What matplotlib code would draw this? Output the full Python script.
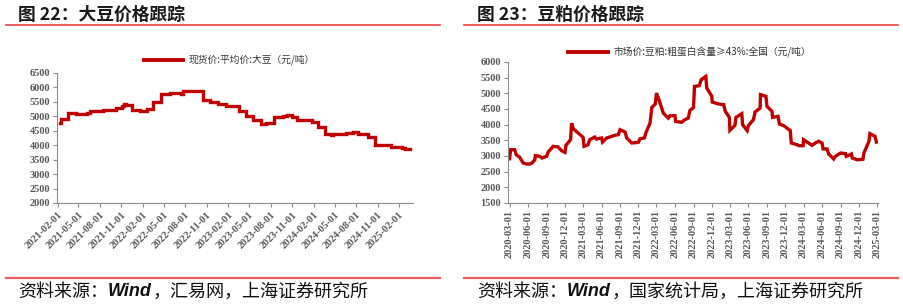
import matplotlib
matplotlib.use("Agg")
import matplotlib.pyplot as plt
import matplotlib.dates as mdates
from matplotlib.lines import Line2D
import numpy as np
import pandas as pd

# ---------------- data ----------------
soy_dates = ["2021-02-12", "2021-02-15", "2021-03-18", "2021-04-22", "2021-06-05", "2021-06-19",
             "2021-07-17", "2021-08-15", "2021-10-11", "2021-11-02", "2021-11-12", "2021-11-20",
             "2021-12-18", "2022-01-19", "2022-02-17", "2022-03-15", "2022-04-20", "2022-05-26",
             "2022-07-14", "2022-07-22", "2022-09-03", "2022-09-20", "2022-10-16", "2022-11-14",
             "2022-12-19", "2023-01-24", "2023-03-18", "2023-04-19", "2023-05-17", "2023-06-22",
             "2023-07-13", "2023-08-14", "2023-09-23", "2023-10-10", "2023-11-02", "2023-11-22",
             "2024-01-15", "2024-01-27", "2024-02-20", "2024-03-19", "2024-04-16", "2024-04-24",
             "2024-06-20", "2024-07-18", "2024-08-09", "2024-09-21", "2024-10-19", "2024-12-08",
             "2024-12-29", "2025-02-11", "2025-02-25", "2025-03-20"]
soy_values = [4770, 4910, 5120, 5080, 5110, 5200,
              5170, 5230, 5290, 5350, 5440, 5380,
              5230, 5200, 5250, 5500, 5780, 5800,
              5790, 5860, 5890, 5880, 5580, 5490,
              5430, 5350, 5170, 5020, 4890, 4750,
              4770, 4970, 5020, 5040, 4970, 4870,
              4890, 4790, 4620, 4390, 4370, 4400,
              4440, 4460, 4390, 4270, 4020, 4000,
              3940, 3900, 3860, 3860]

meal_dates = ["2020-03-01", "2020-03-06", "2020-03-26", "2020-04-03", "2020-04-20", "2020-05-07",
              "2020-05-23", "2020-06-09", "2020-06-21", "2020-07-04", "2020-07-07", "2020-07-28",
              "2020-08-09", "2020-09-01", "2020-09-09", "2020-10-04", "2020-10-28", "2020-11-14",
              "2020-12-01", "2020-12-06", "2020-12-29", "2021-01-03", "2021-01-12", "2021-02-14",
              "2021-03-01", "2021-03-06", "2021-03-26", "2021-04-03", "2021-04-28", "2021-05-06",
              "2021-06-01", "2021-06-06", "2021-06-26", "2021-07-12", "2021-08-06", "2021-08-23",
              "2021-09-01", "2021-09-26", "2021-10-04", "2021-10-29", "2021-12-01", "2021-12-09",
              "2021-12-31", "2022-01-07", "2022-01-28", "2022-02-06", "2022-02-23", "2022-03-01",
              "2022-03-13", "2022-04-04", "2022-04-20", "2022-04-29", "2022-05-07", "2022-06-01",
              "2022-06-04", "2022-07-04", "2022-07-20", "2022-08-06", "2022-08-14", "2022-09-01",
              "2022-09-06", "2022-09-30", "2022-10-09", "2022-11-01", "2022-11-06", "2022-12-01",
              "2022-12-03", "2023-01-04", "2023-01-29", "2023-02-06", "2023-02-26", "2023-03-01",
              "2023-03-26", "2023-03-31", "2023-04-29", "2023-05-03", "2023-05-26", "2023-06-01",
              "2023-06-26", "2023-07-04", "2023-07-29", "2023-07-31", "2023-08-27", "2023-09-01",
              "2023-09-26", "2023-09-29", "2023-10-26", "2023-11-02", "2023-11-23", "2023-12-26",
              "2023-12-31", "2024-01-29", "2024-02-06", "2024-02-28", "2024-03-01", "2024-03-26",
              "2024-04-12", "2024-04-29", "2024-05-15", "2024-06-01", "2024-06-06", "2024-06-26",
              "2024-07-04", "2024-07-29", "2024-08-06", "2024-09-01", "2024-09-26", "2024-09-29",
              "2024-10-12", "2024-10-25", "2024-10-29", "2024-11-23", "2024-12-21", "2024-12-26",
              "2025-01-20", "2025-01-25", "2025-02-19", "2025-02-26"]
meal_values = [2915, 3200, 3200, 3040, 2960, 2780,
               2745, 2745, 2780, 2880, 3010, 2990,
               2935, 2990, 3130, 3310, 3290, 3170,
               3115, 3340, 3520, 4050, 3870, 3680,
               3600, 3310, 3360, 3520, 3605, 3540,
               3575, 3445, 3575, 3605, 3660, 3680,
               3840, 3765, 3575, 3415, 3435, 3550,
               3575, 3735, 4050, 4550, 4660, 5010,
               4800, 4370, 4265, 4210, 4285, 4285,
               4105, 4075, 4160, 4210, 4450, 4550,
               5220, 5245, 5435, 5540, 5170, 4905,
               4720, 4660, 4640, 4425, 4235, 3820,
               3980, 4235, 4350, 4000, 3810, 3970,
               4160, 4405, 4530, 4960, 4905, 4585,
               4425, 4235, 4265, 4020, 3970, 3810,
               3415, 3360, 3330, 3330, 3520, 3415,
               3340, 3415, 3470, 3415, 3225, 3225,
               3065, 2905, 2990, 3095, 3075, 2990,
               3020, 3065, 2935, 2880, 2895, 3095,
               3470, 3715, 3630, 3445]

soy_ticks = pd.date_range("2021-02-01", "2025-02-01", freq="3MS")
meal_ticks = pd.date_range("2020-03-01", "2025-03-01", freq="3MS")
soy_yticks = list(range(2000, 6501, 500))
meal_yticks = list(range(1500, 6001, 500))

soy_label = "现货价:平均价:大豆（元/吨）"
meal_label = "市场价:豆粕:粗蛋白含量≥43%:全国（元/吨）"
title_left = "图 22：大豆价格跟踪"
title_right = "图 23：豆粕价格跟踪"
source_left = ["资料来源：", "Wind", "，汇易网，上海证券研究所"]
source_right = ["资料来源：", "Wind", "，国家统计局，上海证券研究所"]

# ---------------- style ----------------
CJK = ["Noto Sans CJK SC", "DejaVu Sans"]
plt.rcParams["font.family"] = CJK
RED = "#C00000"
GREY = "#595959"
SPINE = "#8c8c8c"

W, H = 904, 306
fig = plt.figure(figsize=(W / 100, H / 100), dpi=100)


def fx(px):
    return px / W


def fy(py):
    return 1 - py / H


def style_axes(ax, yticks, ylim, xticks):
    ax.set_ylim(*ylim)
    ax.set_yticks(yticks)
    ax.set_xticks(xticks)
    ax.xaxis.set_major_formatter(mdates.DateFormatter("%Y-%m-%d"))
    for s in ["top", "right"]:
        ax.spines[s].set_visible(False)
    for s in ["left", "bottom"]:
        ax.spines[s].set_color(SPINE)
        ax.spines[s].set_linewidth(0.8)
    ax.tick_params(axis="both", color=SPINE, length=3, width=0.8, direction="out",
                   labelcolor=GREY, pad=2, labelsize=7.5, labelfontfamily="Liberation Serif")


def finish_labels(ax, rot):
    for lab in ax.get_yticklabels():
        lab.set_fontweight("bold")
    for lab in ax.get_xticklabels():
        lab.set_fontweight("bold")
        if rot == 45:
            lab.set_rotation(45)
            lab.set_ha("right")
            lab.set_va("top")
            lab.set_rotation_mode("anchor")
        else:
            lab.set_rotation(90)
            lab.set_ha("center")
            lab.set_va("top")


# left chart
axL = fig.add_axes([fx(57.5), fy(203), fx(413 - 57.5), (203 - 73) / H])
axL.plot(pd.to_datetime(soy_dates), soy_values, color=RED, lw=2.4, drawstyle="steps-post",
         solid_joinstyle="miter")
axL.set_xlim(pd.Timestamp("2021-02-01"), pd.Timestamp("2025-04-01"))
style_axes(axL, soy_yticks, (2000, 6500), soy_ticks)

# right chart
axR = fig.add_axes([fx(508), fy(203), fx(878 - 508), (203 - 62) / H])
axR.plot(pd.to_datetime(meal_dates), meal_values, color=RED, lw=2.4, solid_joinstyle="miter")
axR.set_xlim(pd.Timestamp("2020-02-22"), pd.Timestamp("2025-03-06"))
style_axes(axR, meal_yticks, (1500, 6000), meal_ticks)

# legends
for (x0, x1, y, lab) in [(144, 183, 60, soy_label), (568, 608, 52, meal_label)]:
    fig.add_artist(Line2D([fx(x0), fx(x1)], [fy(y), fy(y)], color=RED, lw=2.8))
    fig.text(fx(x1 + 6), fy(y), lab, fontsize=7, color="#333333", va="center", ha="left")

fig.canvas.draw()
finish_labels(axL, 45)
finish_labels(axR, 90)

renderer = fig.canvas.get_renderer()
# titles and rules
for (x, xl0, xl1, t, parts) in [(18, 6, 440, title_left, source_left),
                                 (477, 464, 898, title_right, source_right)]:
    fig.text(fx(x), fy(15), t, fontsize=12.8, fontweight="bold", va="center", ha="left",
             color="#1a1a1a")
    fig.add_artist(Line2D([fx(xl0), fx(xl1)], [fy(25), fy(25)], color="#e84040", lw=1.2))
    fig.add_artist(Line2D([fx(xl0), fx(xl1)], [fy(278), fy(278)], color="#ee5c5c", lw=1.6))
    cur = x
    for i, p in enumerate(parts):
        kw = dict(fontsize=13, va="center", ha="left", color="#111111")
        if i == 1:
            kw.update(family=["Liberation Sans", "Noto Sans CJK SC"], style="italic",
                      fontweight="bold")
        t_ = fig.text(fx(cur), fy(292), p, **kw)
        bb = t_.get_window_extent(renderer=renderer)
        cur = bb.x1 + (1 if i == 1 else 0)

fig.savefig("out.png", dpi=100)
